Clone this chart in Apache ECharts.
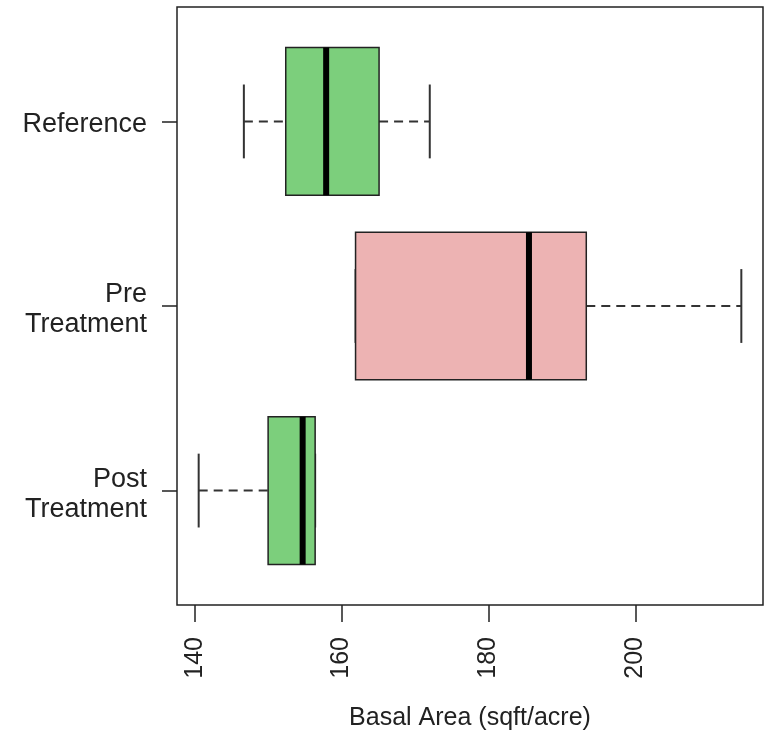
<!DOCTYPE html>
<html>
<head>
<meta charset="utf-8">
<script src="https://cdn.jsdelivr.net/npm/echarts@6/dist/echarts.min.js"></script>
<style>html,body{margin:0;padding:0;background:#fff}#c{width:769px;height:731px}</style>
</head>
<body>
<div id="c"></div>
<script>
// Data
const categories = ['Post\nTreatment', 'Pre\nTreatment', 'Reference'];
const positions = [1, 2, 3];
const lowWhisker = [140.55, 161.9, 146.7];
const q1 = [150.0, 161.9, 152.4];
const median = [154.7, 185.5, 157.9];
const q3 = [156.4, 193.3, 165.1];
const highWhisker = [156.4, 214.4, 172.0];
const xTicks = [140, 160, 180, 200];

const boxColors = ['#7ccf7c', '#edb3b3', '#7ccf7c'];
const FONT = '"Liberation Sans", Arial, sans-serif';

const seriesData = positions.map((p, i) => [p, lowWhisker[i], q1[i], median[i], q3[i], highWhisker[i]]);

function renderItem(params, api) {
  const y = api.value(0);
  const lo = api.coord([api.value(1), y]);
  const b1 = api.coord([api.value(2), y]);
  const md = api.coord([api.value(3), y]);
  const b3 = api.coord([api.value(4), y]);
  const hi = api.coord([api.value(5), y]);
  const boxH = api.size([0, 0.8])[1];
  const capH = api.size([0, 0.4])[1];
  const cy = lo[1];
  const color = boxColors[params.dataIndex];
  const dashStyle = { stroke: '#333', lineWidth: 2, lineDash: [9, 6], fill: null };
  const solid = { stroke: '#333', lineWidth: 2, fill: null };
  const children = [];
  if (b1[0] - lo[0] > 0.5) {
    children.push({ type: 'line', shape: { x1: lo[0], y1: cy, x2: b1[0], y2: cy }, style: dashStyle });
  }
  if (hi[0] - b3[0] > 0.5) {
    children.push({ type: 'line', shape: { x1: b3[0], y1: cy, x2: hi[0], y2: cy }, style: dashStyle });
  }
  children.push({ type: 'line', shape: { x1: lo[0], y1: cy - capH / 2, x2: lo[0], y2: cy + capH / 2 }, style: solid });
  children.push({ type: 'line', shape: { x1: hi[0], y1: cy - capH / 2, x2: hi[0], y2: cy + capH / 2 }, style: solid });
  children.push({ type: 'rect', shape: { x: b1[0], y: cy - boxH / 2, width: b3[0] - b1[0], height: boxH },
    style: { fill: color, stroke: '#222', lineWidth: 1.5 } });
  children.push({ type: 'line', shape: { x1: md[0], y1: cy - boxH / 2, x2: md[0], y2: cy + boxH / 2 },
    style: { stroke: '#000', lineWidth: 6 } });
  return { type: 'group', children };
}

const chart = echarts.init(document.getElementById('c'), null, { renderer: 'canvas' });
chart.setOption({
  animation: false,
  backgroundColor: '#fff',
  grid: { left: 177, right: 6, top: 7, bottom: 126, outerBoundsMode: 'none', containLabel: false,
    show: true, borderColor: '#222', borderWidth: 1.5, backgroundColor: 'transparent' },
  xAxis: {
    type: 'value', min: 137.6, max: 217.35,
    name: 'Basal Area (sqft/acre)', nameLocation: 'middle', nameGap: 101,
    nameTextStyle: { fontFamily: FONT, fontSize: 25, color: '#222' },
    axisLine: { show: false },
    splitLine: { show: false },
    axisTick: { show: true, length: 17, customValues: xTicks, lineStyle: { color: '#222', width: 1.5 } },
    axisLabel: { show: true, rotate: 90, margin: 32, customValues: xTicks, fontFamily: FONT, fontSize: 25, color: '#222' }
  },
  yAxis: {
    type: 'value', min: 0.38, max: 3.62,
    axisLine: { show: false },
    splitLine: { show: false },
    axisTick: { show: true, length: 15, customValues: positions, lineStyle: { color: '#222', width: 1.5 } },
    axisLabel: {
      show: true, margin: 30, customValues: positions, color: '#222', align: 'right',
      formatter: v => {
        const c = categories[positions.indexOf(Math.round(v))] || '';
        return '{pad|}\n' + c.split('\n').map(s => '{t|' + s + '}').join('\n');
      },
      rich: {
        pad: { height: 7, lineHeight: 7, fontSize: 1 },
        t: { fontFamily: FONT, fontSize: 27, lineHeight: 30, color: '#222', align: 'right' }
      }
    }
  },
  series: [{
    type: 'custom',
    renderItem,
    encode: { y: 0, x: [1, 2, 3, 4, 5] },
    data: seriesData,
    clip: false
  }]
});
</script>
</body>
</html>
